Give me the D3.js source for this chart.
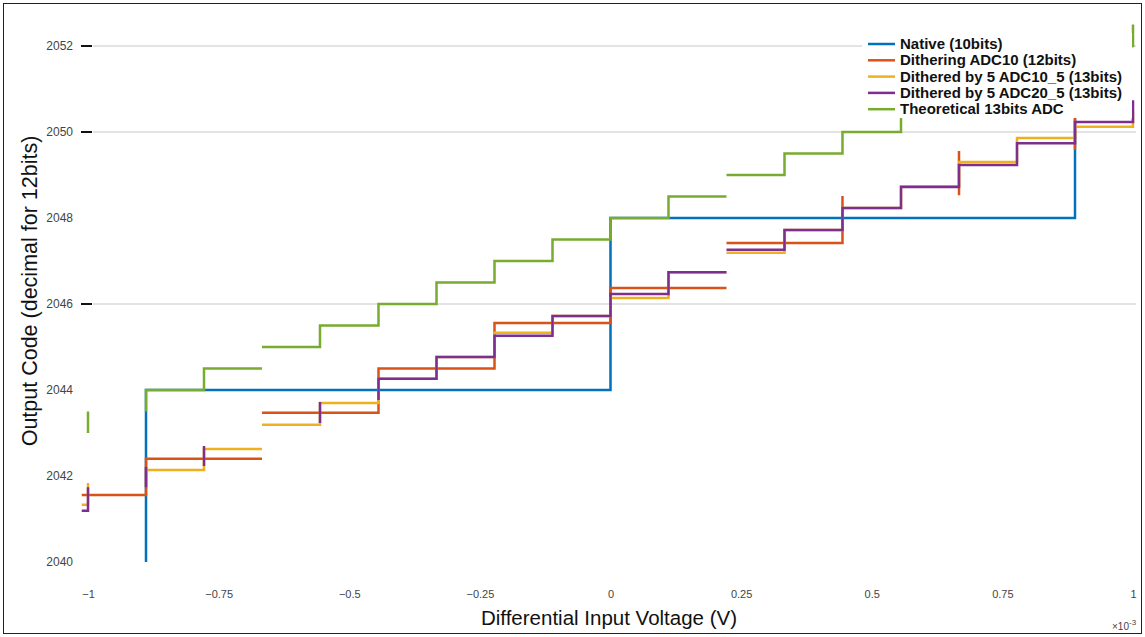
<!DOCTYPE html>
<html>
<head>
<meta charset="utf-8">
<script src="https://cdn.jsdelivr.net/npm/d3@7"></script>
<style>
  html, body { margin: 0; padding: 0; background: #fff; }
  svg { display: block; }
  text { font-family: "Liberation Sans", Arial, sans-serif; }
</style>
</head>
<body>
<div id="chart"></div>
<script>
// axis ticks
const xTicks = [-1, -0.75, -0.5, -0.25, 0, 0.25, 0.5, 0.75, 1];
const yTicks = [2040, 2042, 2044, 2046, 2048, 2050, 2052];
const yGridTicks = [2046, 2050, 2052];

// series: x in units of 10^-3 V, y in output code; null = break in the line
const nativeX = [-0.889, -0.889, 0, 0.889, 1];
const nativeY = [2040, 2044, 2048, 2052, 2052];

const ditherX = [-1.012, -0.889, -0.667, null, -0.667, -0.444, -0.222, 0, 0.222, null,
                 0.222, 0.444, null, 0.667, 0.667, null, 0.889, 0.889];
const ditherY = [2041.56, 2042.4, 2042.4, null, 2043.47, 2044.5, 2045.56, 2046.37, 2046.37, null,
                 2047.42, 2048.51, null, 2048.53, 2049.56, null, 2049.58, 2050.6];

const dith5aX = [-1.012, -1, null, -0.889, -0.778, -0.667, null, -0.667, -0.556, -0.444, -0.333,
                 -0.222, -0.111, 0, 0.111, 0.222, null, 0.222, 0.333, 0.444, 0.556, 0.667, 0.778, 0.889, 1, 1];
const dith5aY = [2041.33, 2041.84, null, 2042.14, 2042.63, 2042.63, null, 2043.19, 2043.7, 2044.26, 2044.77,
                 2045.33, 2045.72, 2046.14, 2046.74, 2046.74, null, 2047.19, 2047.72, 2048.23, 2048.74, 2049.3, 2049.86, 2050.12, 2050.12, 2050.5];

const dith5bX = [-1.012, -1, null, -0.889, -0.889, null, -0.778, -0.778, null, -0.556, -0.556, null,
                 -0.444, -0.444, -0.333, -0.222, -0.111, 0, 0.111, 0.222, null,
                 0.222, 0.333, 0.444, 0.556, 0.667, 0.778, 0.889, 1, 1];
const dith5bY = [2041.19, 2041.74, null, 2041.74, 2042.21, null, 2042.23, 2042.7, null, 2043.23, 2043.72, null,
                 2043.77, 2044.26, 2044.77, 2045.26, 2045.72, 2046.23, 2046.74, 2046.74, null,
                 2047.26, 2047.72, 2048.23, 2048.72, 2049.23, 2049.74, 2050.23, 2050.23, 2050.74];

const theoX = [-1, -1, null, -0.889, -0.889, -0.778, -0.667, null, -0.667, -0.556, -0.444, -0.333,
               -0.222, -0.111, 0, 0.111, 0.222, null, 0.222, 0.333, 0.444, 0.556, 0.667, 0.778, 0.889, 1, 1];
const theoY = [2043, 2043.5, null, 2043.5, 2044, 2044.5, 2044.5, null, 2045, 2045.5, 2046, 2046.5,
               2047, 2047.5, 2048, 2048.5, 2048.5, null, 2049, 2049.5, 2050, 2050.5, 2051, 2051.5, 2052, 2052, 2052.5];

const seriesNames = ['Native (10bits)', 'Dithering ADC10 (12bits)', 'Dithered by 5 ADC10_5 (13bits)',
                     'Dithered by 5 ADC20_5 (13bits)', 'Theoretical 13bits ADC'];
const seriesColors = ['#0072BD', '#D95319', '#EDB120', '#7E2F8E', '#77AC30'];

// dimensions
const w = 1145;
const h = 637;

const x_scale = d3.scaleLinear().domain([-1, 1]).range([88, 1133]);
const y_scale = d3.scaleLinear().domain([2040, 2052]).range([562, 46]);

const svg = d3.select('#chart')
    .append('svg')
    .attr('width', w)
    .attr('height', h);

// frame
svg.append('rect')
    .attr('x', 3.5).attr('y', 3.5)
    .attr('width', w - 7).attr('height', h - 7)
    .attr('fill', '#fff')
    .attr('stroke', '#222')
    .attr('stroke-width', 1);

// grid
svg.append('g')
    .selectAll('line')
    .data(yGridTicks)
    .enter()
    .append('line')
    .attr('x1', 93).attr('x2', 1136)
    .attr('y1', d => y_scale(d)).attr('y2', d => y_scale(d))
    .attr('stroke', '#e3e3e3')
    .attr('stroke-width', 2);

svg.append('g')
    .selectAll('line')
    .data(yGridTicks)
    .enter()
    .append('line')
    .attr('x1', 81).attr('x2', 92)
    .attr('y1', d => y_scale(d)).attr('y2', d => y_scale(d))
    .attr('stroke', '#111')
    .attr('stroke-width', 2);

// y axis labels
const y_axis = d3.axisLeft(y_scale).tickValues(yTicks).tickSize(0).tickPadding(0).tickFormat(d3.format('d'));
const gy = svg.append('g')
    .attr('id', 'y-axis')
    .attr('transform', 'translate(73, 0)')
    .call(y_axis);
gy.select('.domain').remove();
gy.selectAll('text')
    .attr('fill', '#444')
    .style('font-size', '12px');

// x axis labels
const x_axis = d3.axisBottom(x_scale).tickValues(xTicks).tickSize(0).tickPadding(0)
    .tickFormat(d => d3.format('')(d));
const gx = svg.append('g')
    .attr('id', 'x-axis')
    .attr('transform', 'translate(0, 590)')
    .call(x_axis);
gx.select('.domain').remove();
gx.selectAll('text')
    .attr('fill', '#444')
    .style('font-size', '11px');

// axis titles
svg.append('text')
    .attr('x', 609).attr('y', 625)
    .attr('text-anchor', 'middle')
    .style('font-size', '20.5px')
    .attr('fill', '#111')
    .text('Differential Input Voltage (V)');

svg.append('text')
    .attr('transform', 'translate(37, 291) rotate(-90)')
    .attr('text-anchor', 'middle')
    .style('font-size', '21.5px')
    .attr('fill', '#111')
    .text('Output Code (decimal for 12bits)');

const expo = svg.append('text')
    .attr('x', 1112).attr('y', 630)
    .style('font-size', '10px')
    .attr('fill', '#444');
expo.append('tspan').text('×10');
expo.append('tspan').attr('dy', -5).style('font-size', '8px').text('-3');

// lines
const lineGen = d3.line()
    .defined(d => d.y !== null)
    .x(d => x_scale(d.x))
    .y(d => y_scale(d.y))
    .curve(d3.curveStepAfter);

const allSeries = [
    [nativeX, nativeY],
    [ditherX, ditherY],
    [dith5aX, dith5aY],
    [dith5bX, dith5bY],
    [theoX, theoY]
].map(([xs, ys], i) => ({
    name: seriesNames[i],
    color: seriesColors[i],
    points: xs.map((xv, j) => ({ x: xv, y: ys[j] }))
}));

svg.append('g')
    .selectAll('path')
    .data(allSeries)
    .enter()
    .append('path')
    .attr('d', d => lineGen(d.points))
    .attr('fill', 'none')
    .attr('stroke', d => d.color)
    .attr('stroke-width', 2.5)
    .attr('stroke-linejoin', 'miter')
    .attr('stroke-linecap', 'butt');

// legend
const legend = svg.append('g').attr('transform', 'translate(862, 33)');
legend.append('rect')
    .attr('width', 270).attr('height', 85)
    .attr('fill', '#fff');
const items = legend.selectAll('g')
    .data(allSeries)
    .enter()
    .append('g')
    .attr('transform', (d, i) => `translate(0, ${11 + i * 16.3})`);
items.append('line')
    .attr('x1', 6).attr('x2', 33)
    .attr('stroke', d => d.color)
    .attr('stroke-width', 2.5);
items.append('text')
    .attr('x', 38).attr('y', 5)
    .style('font-size', '15px')
    .style('font-weight', 'bold')
    .attr('fill', '#111')
    .text(d => d.name);
</script>
</body>
</html>
